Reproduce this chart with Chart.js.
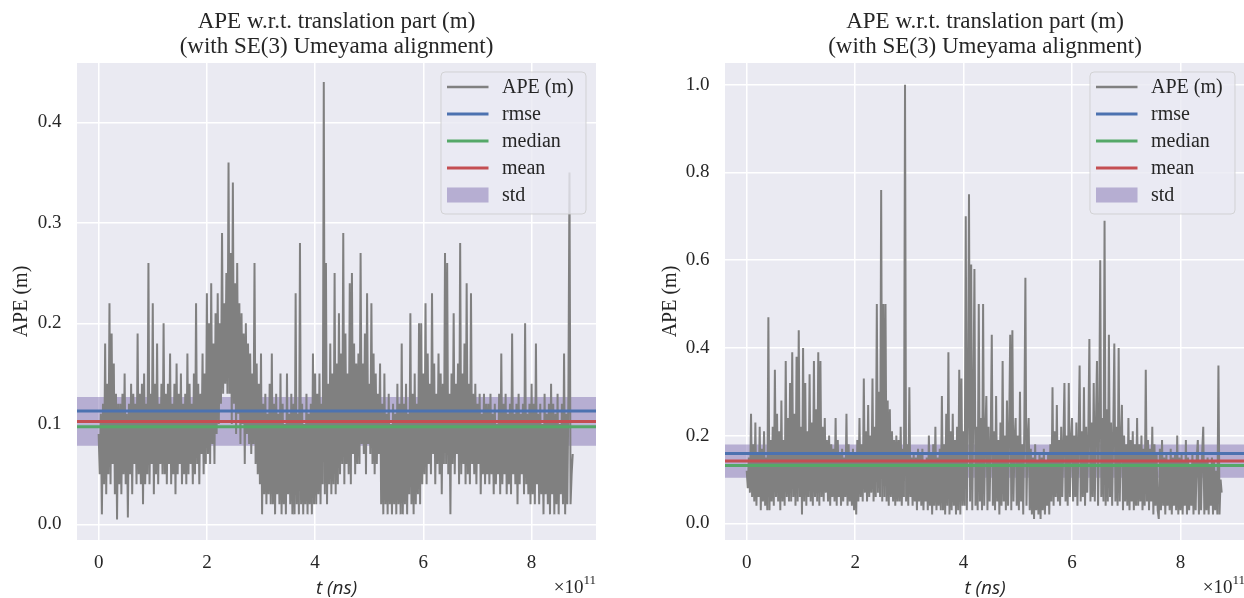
<!DOCTYPE html>
<html><head><meta charset="utf-8">
<script src="https://cdn.jsdelivr.net/npm/chart.js@4/dist/chart.umd.min.js"></script>
<style>
html,body{margin:0;padding:0;background:#fff;overflow:hidden;width:1244px;height:598px;}
#wrap{position:relative;width:1244px;height:598px;overflow:hidden;}
canvas{position:absolute;top:0;}
#c1{left:0;} #c2{left:620px;}
</style></head>
<body><div id="wrap"><canvas id="c1" width="620" height="598"></canvas><canvas id="c2" width="626" height="598"></canvas></div>
<script>
// time stamps (units of 1e11 ns)
const times = [
0,0.02,0.04,0.06,0.08,0.1,0.12,0.14,0.16,0.18,0.2,0.22,0.24,0.26,0.28,0.3,0.32,0.34,0.36,0.38,
0.4,0.42,0.44,0.46,0.48,0.5,0.52,0.54,0.56,0.58,0.6,0.62,0.64,0.66,0.68,0.7,0.72,0.74,0.76,0.78,
0.8,0.82,0.84,0.86,0.88,0.9,0.92,0.94,0.96,0.98,1,1.02,1.04,1.06,1.08,1.1,1.12,1.14,1.16,1.18,
1.2,1.22,1.24,1.26,1.28,1.3,1.32,1.34,1.36,1.38,1.4,1.42,1.44,1.46,1.48,1.5,1.52,1.54,1.56,1.58,
1.6,1.62,1.64,1.66,1.68,1.7,1.72,1.74,1.76,1.78,1.8,1.82,1.84,1.86,1.88,1.9,1.92,1.94,1.96,1.98,
2,2.02,2.04,2.06,2.08,2.1,2.12,2.14,2.16,2.18,2.2,2.22,2.24,2.26,2.28,2.3,2.32,2.34,2.36,2.38,
2.4,2.42,2.44,2.46,2.48,2.5,2.52,2.54,2.56,2.58,2.6,2.62,2.64,2.66,2.68,2.7,2.72,2.74,2.76,2.78,
2.8,2.82,2.84,2.86,2.88,2.9,2.92,2.94,2.96,2.98,3,3.02,3.04,3.06,3.08,3.1,3.12,3.14,3.16,3.18,
3.2,3.22,3.24,3.26,3.28,3.3,3.32,3.34,3.36,3.38,3.4,3.42,3.44,3.46,3.48,3.5,3.52,3.54,3.56,3.58,
3.6,3.62,3.64,3.66,3.68,3.7,3.72,3.74,3.76,3.78,3.8,3.82,3.84,3.86,3.88,3.9,3.92,3.94,3.96,3.98,
4,4.02,4.04,4.06,4.08,4.1,4.12,4.14,4.16,4.18,4.2,4.22,4.24,4.26,4.28,4.3,4.32,4.34,4.36,4.38,
4.4,4.42,4.44,4.46,4.48,4.5,4.52,4.54,4.56,4.58,4.6,4.62,4.64,4.66,4.68,4.7,4.72,4.74,4.76,4.78,
4.8,4.82,4.84,4.86,4.88,4.9,4.92,4.94,4.96,4.98,5,5.02,5.04,5.06,5.08,5.1,5.12,5.14,5.16,5.18,
5.2,5.22,5.24,5.26,5.28,5.3,5.32,5.34,5.36,5.38,5.4,5.42,5.44,5.46,5.48,5.5,5.52,5.54,5.56,5.58,
5.6,5.62,5.64,5.66,5.68,5.7,5.72,5.74,5.76,5.78,5.8,5.82,5.84,5.86,5.88,5.9,5.92,5.94,5.96,5.98,
6,6.02,6.04,6.06,6.08,6.1,6.12,6.14,6.16,6.18,6.2,6.22,6.24,6.26,6.28,6.3,6.32,6.34,6.36,6.38,
6.4,6.42,6.44,6.46,6.48,6.5,6.52,6.54,6.56,6.58,6.6,6.62,6.64,6.66,6.68,6.7,6.72,6.74,6.76,6.78,
6.8,6.82,6.84,6.86,6.88,6.9,6.92,6.94,6.96,6.98,7,7.02,7.04,7.06,7.08,7.1,7.12,7.14,7.16,7.18,
7.2,7.22,7.24,7.26,7.28,7.3,7.32,7.34,7.36,7.38,7.4,7.42,7.44,7.46,7.48,7.5,7.52,7.54,7.56,7.58,
7.6,7.62,7.64,7.66,7.68,7.7,7.72,7.74,7.76,7.78,7.8,7.82,7.84,7.86,7.88,7.9,7.92,7.94,7.96,7.98,
8,8.02,8.04,8.06,8.08,8.1,8.12,8.14,8.16,8.18,8.2,8.22,8.24,8.26,8.28,8.3,8.32,8.34,8.36,8.38,
8.4,8.42,8.44,8.46,8.48,8.5,8.52,8.54,8.56,8.58,8.6,8.62,8.64,8.66,8.68,8.7,8.72,8.74,8.76
];

// APE values (m), left plot
const apeLeft = [
0.09,0.05,0.11,0.01,0.12,0.04,0.18,0.03,0.14,0.05,0.22,0.04,0.19,0.06,0.16,0.03,0.13,0.005,0.12,0.04,
0.12,0.03,0.13,0.05,0.15,0.04,0.11,0.007,0.12,0.05,0.14,0.03,0.13,0.06,0.12,0.04,0.19,0.05,0.13,0.04,
0.14,0.02,0.15,0.04,0.12,0.05,0.26,0.04,0.13,0.06,0.22,0.03,0.14,0.05,0.18,0.04,0.12,0.06,0.14,0.05,
0.20,0.05,0.13,0.04,0.14,0.06,0.17,0.04,0.12,0.05,0.14,0.03,0.16,0.05,0.13,0.06,0.15,0.04,0.12,0.05,
0.13,0.04,0.17,0.05,0.14,0.06,0.12,0.04,0.15,0.05,0.22,0.06,0.14,0.04,0.13,0.07,0.17,0.05,0.15,0.06,
0.23,0.07,0.20,0.06,0.24,0.08,0.18,0.06,0.21,0.09,0.23,0.10,0.20,0.12,0.29,0.13,0.22,0.14,0.25,0.13,
0.36,0.13,0.27,0.10,0.34,0.12,0.24,0.09,0.26,0.11,0.22,0.08,0.21,0.10,0.19,0.06,0.20,0.09,0.18,0.08,
0.17,0.07,0.15,0.08,0.26,0.06,0.16,0.05,0.14,0.04,0.17,0.01,0.12,0.03,0.13,0.02,0.11,0.03,0.14,0.02,
0.17,0.02,0.12,0.01,0.13,0.03,0.11,0.02,0.15,0.01,0.12,0.02,0.10,0.01,0.15,0.03,0.11,0.02,0.13,0.01,
0.12,0.01,0.23,0.02,0.11,0.01,0.28,0.02,0.12,0.01,0.10,0.02,0.13,0.01,0.11,0.02,0.12,0.01,0.17,0.02,
0.15,0.02,0.13,0.03,0.15,0.02,0.12,0.04,0.44,0.03,0.26,0.02,0.14,0.04,0.18,0.03,0.15,0.04,0.25,0.03,
0.16,0.04,0.21,0.05,0.17,0.06,0.29,0.04,0.19,0.06,0.15,0.05,0.24,0.04,0.25,0.07,0.18,0.05,0.16,0.06,
0.17,0.06,0.27,0.08,0.16,0.07,0.19,0.05,0.23,0.08,0.14,0.07,0.22,0.06,0.17,0.05,0.15,0.06,0.13,0.07,
0.16,0.02,0.12,0.01,0.15,0.02,0.11,0.01,0.13,0.02,0.10,0.01,0.12,0.02,0.11,0.01,0.14,0.02,0.12,0.01,
0.18,0.01,0.12,0.02,0.14,0.01,0.11,0.03,0.21,0.02,0.13,0.01,0.15,0.02,0.12,0.03,0.20,0.02,0.20,0.04,
0.15,0.05,0.22,0.04,0.17,0.06,0.14,0.05,0.23,0.07,0.16,0.04,0.13,0.06,0.17,0.05,0.15,0.03,0.14,0.06,
0.27,0.06,0.26,0.05,0.13,0.01,0.15,0.06,0.21,0.05,0.14,0.07,0.16,0.04,0.28,0.05,0.15,0.06,0.18,0.04,
0.24,0.05,0.14,0.04,0.23,0.06,0.13,0.05,0.14,0.04,0.12,0.06,0.13,0.03,0.11,0.05,0.13,0.04,0.12,0.05,
0.12,0.04,0.13,0.05,0.11,0.03,0.12,0.04,0.10,0.05,0.13,0.03,0.17,0.04,0.12,0.05,0.13,0.03,0.11,0.04,
0.12,0.03,0.19,0.05,0.11,0.04,0.12,0.02,0.13,0.04,0.11,0.05,0.12,0.03,0.20,0.04,0.11,0.03,0.12,0.02,
0.14,0.03,0.12,0.02,0.18,0.04,0.11,0.02,0.12,0.03,0.10,0.01,0.13,0.03,0.11,0.02,0.12,0.01,0.14,0.03,
0.12,0.01,0.11,0.02,0.13,0.01,0.10,0.03,0.12,0.02,0.17,0.01,0.11,0.02,0.13,0.35,0.02,0.05,0.07
];

// APE values (m), right plot
const apeRight = [
0.12,0.08,0.15,0.07,0.25,0.06,0.18,0.05,0.23,0.04,0.16,0.06,0.22,0.03,0.17,0.05,0.21,0.04,0.15,0.03,
0.47,0.03,0.19,0.05,0.22,0.04,0.35,0.06,0.25,0.05,0.21,0.03,0.28,0.05,0.19,0.04,0.37,0.06,0.24,0.05,
0.32,0.05,0.39,0.06,0.25,0.04,0.38,0.05,0.44,0.06,0.22,0.02,0.40,0.05,0.32,0.04,0.21,0.06,0.34,0.05,
0.23,0.04,0.37,0.06,0.26,0.05,0.39,0.04,0.37,0.06,0.22,0.05,0.24,0.07,0.19,0.05,0.20,0.04,0.18,0.06,
0.17,0.05,0.24,0.04,0.19,0.06,0.16,0.04,0.17,0.05,0.15,0.06,0.25,0.04,0.18,0.05,0.16,0.04,0.17,0.03,
0.16,0.02,0.19,0.05,0.24,0.06,0.18,0.05,0.33,0.07,0.21,0.05,0.27,0.06,0.20,0.07,0.33,0.05,0.22,0.06,
0.50,0.07,0.30,0.06,0.76,0.05,0.50,0.06,0.50,0.05,0.28,0.04,0.26,0.06,0.21,0.05,0.19,0.04,0.20,0.05,
0.19,0.05,0.22,0.04,0.17,0.06,1.00,0.05,0.18,0.04,0.31,0.06,0.15,0.04,0.16,0.05,0.15,0.03,0.17,0.05,
0.16,0.04,0.17,0.03,0.14,0.05,0.15,0.03,0.20,0.04,0.16,0.02,0.18,0.04,0.22,0.03,0.15,0.04,0.17,0.03,
0.29,0.03,0.18,0.02,0.25,0.04,0.39,0.02,0.21,0.03,0.25,0.04,0.19,0.02,0.22,0.03,0.35,0.02,0.33,0.04,
0.21,0.04,0.70,0.03,0.24,0.75,0.05,0.59,0.03,0.26,0.58,0.04,0.22,0.03,0.50,0.05,0.24,0.03,0.50,0.04,
0.20,0.29,0.03,0.22,0.05,0.18,0.43,0.04,0.21,0.03,0.29,0.05,0.19,0.02,0.23,0.04,0.37,0.05,0.20,0.03,
0.28,0.04,0.21,0.43,0.03,0.44,0.05,0.19,0.24,0.04,0.20,0.03,0.30,0.05,0.18,0.02,0.22,0.56,0.04,0.19,
0.24,0.03,0.17,0.02,0.15,0.01,0.18,0.03,0.14,0.02,0.16,0.01,0.15,0.03,0.17,0.02,0.14,0.04,0.16,0.02,
0.18,0.05,0.31,0.04,0.21,0.06,0.27,0.05,0.19,0.04,0.22,0.06,0.18,0.32,0.05,0.20,0.04,0.32,0.06,0.19,
0.24,0.05,0.20,0.06,0.23,0.04,0.19,0.36,0.05,0.21,0.06,0.31,0.04,0.22,0.07,0.20,0.42,0.05,0.23,0.06,
0.32,0.05,0.22,0.37,0.04,0.21,0.60,0.06,0.24,0.05,0.69,0.04,0.26,0.05,0.43,0.06,0.23,0.04,0.21,0.41,
0.05,0.22,0.04,0.40,0.05,0.19,0.27,0.03,0.20,0.05,0.18,0.04,0.24,0.03,0.19,0.05,0.21,0.03,0.18,0.04,
0.24,0.04,0.18,0.05,0.20,0.03,0.17,0.04,0.35,0.05,0.19,0.03,0.17,0.05,0.22,0.02,0.18,0.04,0.16,0.03,
0.01,0.17,0.03,0.19,0.04,0.15,0.02,0.16,0.04,0.14,0.03,0.17,0.02,0.15,0.04,0.16,0.03,0.20,0.02,0.15,
0.03,0.16,0.02,0.14,0.04,0.19,0.02,0.15,0.03,0.13,0.04,0.16,0.02,0.14,0.03,0.15,0.19,0.02,0.14,0.03,
0.16,0.22,0.02,0.14,0.03,0.15,0.02,0.13,0.04,0.15,0.02,0.14,0.03,0.12,0.02,0.36,0.02,0.10,0.07
];

// statistics: [rmse, median, mean] and std
const statNames = ['rmse', 'median', 'mean'];
const statsLeft = [0.1127, 0.0972, 0.1025];
const stdLeft = 0.0243;
const statsRight = [0.159, 0.132, 0.142];
const stdRight = 0.038;

const legendLabels = ['APE (m)', 'rmse', 'median', 'mean', 'std'];
const titleLines = ['APE w.r.t. translation part (m)', '(with SE(3) Umeyama alignment)'];
const xTickValues = [0, 2, 4, 6, 8];
const yTicksLeft = [0, 0.1, 0.2, 0.3, 0.4];
const yTicksRight = [0, 0.2, 0.4, 0.6, 0.8, 1.0];

const GRAY = '#808080', BLUE = '#4C72B0', GREEN = '#55A868', RED = '#C44E52';
const STD_FILL = 'rgba(129,114,178,0.5)';
const TEXT = '#262626';
const SERIF = '"Liberation Serif", "Times New Roman", serif';
const X_MIN = -0.40, X_MAX = 9.19;

Chart.defaults.font.family = SERIF;

const bgPlugin = {
  id: 'plotBg',
  beforeDraw(chart) {
    const {ctx, chartArea: a} = chart;
    ctx.save();
    ctx.fillStyle = '#EAEAF2';
    ctx.fillRect(a.left, a.top, a.right - a.left, a.bottom - a.top);
    ctx.restore();
  }
};

const overlayPlugin = {
  id: 'overlay',
  afterDatasetsDraw(chart) {
    const {ctx, chartArea: a} = chart;
    const w = 145, h = 142;
    const x0 = a.right - 10 - w, y0 = a.top + 9;
    ctx.save();
    const r = 4;
    ctx.beginPath();
    ctx.moveTo(x0 + r, y0);
    ctx.lineTo(x0 + w - r, y0); ctx.quadraticCurveTo(x0 + w, y0, x0 + w, y0 + r);
    ctx.lineTo(x0 + w, y0 + h - r); ctx.quadraticCurveTo(x0 + w, y0 + h, x0 + w - r, y0 + h);
    ctx.lineTo(x0 + r, y0 + h); ctx.quadraticCurveTo(x0, y0 + h, x0, y0 + h - r);
    ctx.lineTo(x0, y0 + r); ctx.quadraticCurveTo(x0, y0, x0 + r, y0);
    ctx.closePath();
    ctx.fillStyle = 'rgba(234,234,242,0.8)';
    ctx.fill();
    ctx.strokeStyle = 'rgba(204,204,204,0.8)';
    ctx.lineWidth = 1;
    ctx.stroke();
    const cols = [GRAY, BLUE, GREEN, RED];
    const widths = [2.5, 3, 3, 3];
    legendLabels.forEach((lab, i) => {
      const y = y0 + 15 + i * 27;
      if (i < 4) {
        ctx.beginPath();
        ctx.moveTo(x0 + 6, y); ctx.lineTo(x0 + 47.5, y);
        ctx.strokeStyle = cols[i]; ctx.lineWidth = widths[i]; ctx.lineCap = 'butt';
        ctx.stroke();
      } else {
        ctx.fillStyle = STD_FILL;
        ctx.fillRect(x0 + 6, y - 7.5, 41.5, 15);
      }
      ctx.fillStyle = TEXT;
      ctx.font = '20px ' + SERIF;
      ctx.textBaseline = 'middle';
      ctx.textAlign = 'left';
      ctx.fillText(lab, x0 + 61, y + 1);
    });
    ctx.restore();
  },
  afterDraw(chart) {
    const {ctx, chartArea: a} = chart;
    ctx.save();
    ctx.fillStyle = TEXT;
    ctx.textBaseline = 'alphabetic';
    ctx.textAlign = 'right';
    ctx.font = '13px ' + SERIF;
    const sup = '11';
    const sw = ctx.measureText(sup).width;
    ctx.fillText(sup, a.right, 584);
    ctx.font = '19px ' + SERIF;
    ctx.fillText('\u00d710', a.right - sw, 593);
    ctx.restore();
  }
};

function makeChart(id, ape, stats, std, yMin, yMax, yTicks, yAxisWidth, padRight, yTitlePad) {
  const [rmse, median, mean] = stats;
  const hline = v => [{x: X_MIN, y: v}, {x: X_MAX, y: v}];
  return new Chart(document.getElementById(id), {
    type: 'line',
    data: {
      datasets: [
        {label: legendLabels[0], data: times.map((t, i) => ({x: t, y: ape[i]})),
         borderColor: GRAY, borderWidth: 2, pointRadius: 0, tension: 0, order: 5, fill: false},
        {label: statNames[0], data: hline(rmse), borderColor: BLUE, borderWidth: 3, pointRadius: 0, order: 3, fill: false},
        {label: statNames[1], data: hline(median), borderColor: GREEN, borderWidth: 3, pointRadius: 0, order: 2, fill: false},
        {label: statNames[2], data: hline(mean), borderColor: RED, borderWidth: 3, pointRadius: 0, order: 1, fill: false},
        {label: legendLabels[4], data: hline(mean + std), borderWidth: 0, borderColor: 'rgba(0,0,0,0)',
         backgroundColor: STD_FILL, fill: {value: mean - std}, pointRadius: 0, order: 10}
      ]
    },
    options: {
      responsive: false,
      animation: false,
      devicePixelRatio: 1,
      layout: {padding: {left: 0, right: padRight, top: 0, bottom: 0}},
      plugins: {
        legend: {display: false},
        tooltip: {enabled: false},
        title: {display: true, text: titleLines, fullSize: false, color: TEXT,
                font: {family: SERIF, size: 23, weight: 'normal', lineHeight: '25px'},
                padding: {top: 9.5, bottom: 3.5}}
      },
      scales: {
        x: {
          type: 'linear', min: X_MIN, max: X_MAX,
          afterBuildTicks: s => { s.ticks = xTickValues.map(v => ({value: v})); },
          afterFit: s => { s.height = 58; },
          ticks: {padding: 12, color: TEXT, font: {family: SERIF, size: 19}, maxRotation: 0,
                  callback: v => String(v)},
          grid: {color: '#ffffff', lineWidth: 1.5, drawTicks: false},
          border: {display: false},
          title: {display: true, text: 't (ns)', color: TEXT,
                  font: {family: '"Open Sans", sans-serif', style: 'italic', size: 19, lineHeight: 1},
                  padding: {top: 0, bottom: 0}}
        },
        y: {
          type: 'linear', min: yMin, max: yMax,
          afterBuildTicks: s => { s.ticks = yTicks.map(v => ({value: v})); },
          afterFit: s => { s.width = yAxisWidth; },
          ticks: {padding: 15.5, color: TEXT, font: {family: SERIF, size: 19},
                  callback: v => Number(v).toFixed(1)},
          grid: {color: '#ffffff', lineWidth: 1.5, drawTicks: false},
          border: {display: false},
          title: {display: true, text: 'APE (m)', color: TEXT,
                  font: {family: SERIF, size: 20, lineHeight: 1.2},
                  padding: {top: yTitlePad, bottom: 0}}
        }
      }
    },
    plugins: [bgPlugin, overlayPlugin]
  });
}

makeChart('c1', apeLeft, statsLeft, stdLeft, -0.0155, 0.459, yTicksLeft, 77, 24, 10);
makeChart('c2', apeRight, statsRight, stdRight, -0.038, 1.0495, yTicksRight, 105, 1, 39);
</script>
</body></html>
